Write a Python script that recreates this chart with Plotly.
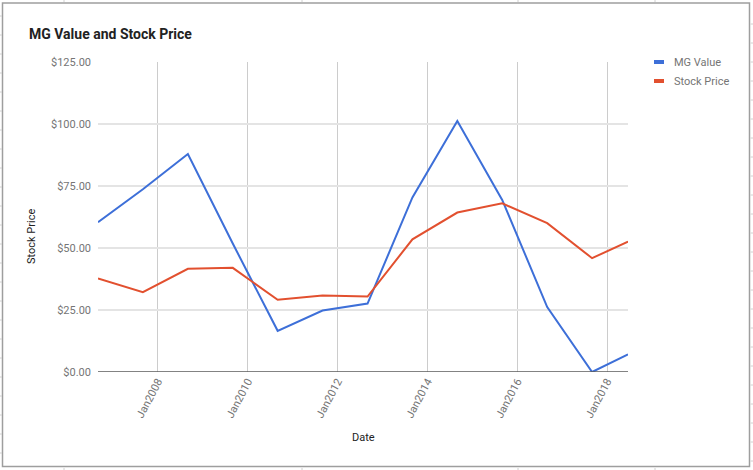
import plotly.graph_objects as go

# ---- data ----
dates = ["2006-09-01", "2007-09-01", "2008-09-01", "2009-09-01", "2010-09-01",
         "2011-09-01", "2012-09-01", "2013-09-01", "2014-09-01", "2015-09-01",
         "2016-09-01", "2017-09-01", "2018-06-20"]
mg_value = [60.4, 73.7, 87.9, 51.8, 16.6, 24.8, 27.6, 70.4, 101.2, 69.4, 26.2, 0.0, 7.1]
stock_price = [37.7, 32.2, 41.6, 42.0, 29.1, 30.8, 30.4, 53.5, 64.3, 68.0, 60.0, 45.9, 52.6]
x_tick_vals = ["2008-01-01", "2010-01-01", "2012-01-01", "2014-01-01", "2016-01-01", "2018-01-01"]
x_tick_text = ["Jan2008", "Jan2010", "Jan2012", "Jan2014", "Jan2016", "Jan2018"]
series_names = ["MG Value", "Stock Price"]
colors = ["#3d6fd8", "#e2502f"]

W, H = 753, 470
ML, MR, MT, MB = 98, 125, 62, 98
PW, PH = W - ML - MR, H - MT - MB


def px(x):
    return (x - ML) / PW


def py(y):
    return 1 - (y - MT) / PH


fig = go.Figure()
for name, vals, col in zip(series_names, [mg_value, stock_price], colors):
    fig.add_trace(go.Scatter(x=dates, y=vals, mode="lines", name=name,
                             line=dict(color=col, width=2), showlegend=False))

shapes = []
# outer frame
shapes.append(dict(type="rect", xref="paper", yref="paper",
                   x0=px(2.5), x1=px(749.5), y0=py(466.5), y1=py(3),
                   line=dict(color="#9e9e9e", width=1.5), layer="below"))
# spreadsheet grid stubs outside the frame
for yy in range(21, 470, 19):
    shapes.append(dict(type="line", xref="paper", yref="paper",
                       x0=px(0), x1=px(2), y0=py(yy - 5), y1=py(yy - 5),
                       line=dict(color="#d0d0d0", width=1)))
    shapes.append(dict(type="line", xref="paper", yref="paper",
                       x0=px(750.5), x1=px(753), y0=py(yy + 3), y1=py(yy + 3),
                       line=dict(color="#d0d0d0", width=1)))
for xx in [64, 302, 518, 655]:
    shapes.append(dict(type="line", xref="paper", yref="paper",
                       x0=px(xx), x1=px(xx), y0=py(0), y1=py(2),
                       line=dict(color="#d0d0d0", width=1)))
    shapes.append(dict(type="line", xref="paper", yref="paper",
                       x0=px(xx), x1=px(xx), y0=py(468), y1=py(470),
                       line=dict(color="#d0d0d0", width=1)))
# zero baseline
shapes.append(dict(type="line", xref="paper", yref="y", x0=0, x1=1, y0=0, y1=0,
                   line=dict(color="#5a5a5a", width=1.5)))

annotations = []
annotations.append(dict(text="MG Value and Stock Price", xref="paper", yref="paper",
                        x=px(27), y=py(34), xanchor="left", yanchor="middle", showarrow=False,
                        font=dict(family="Roboto", size=14, color="#222222", weight="bold")))
annotations.append(dict(text="Date", xref="paper", yref="paper",
                        x=px(363), y=py(437), xanchor="center", yanchor="middle", showarrow=False,
                        font=dict(family="Roboto", size=11, color="#222222")))
annotations.append(dict(text="Stock Price", xref="paper", yref="paper", textangle=-90,
                        x=px(31), y=py(237), xanchor="center", yanchor="middle", showarrow=False,
                        font=dict(family="Roboto", size=11, color="#222222")))
# manual legend
for i, (name, col) in enumerate(zip(series_names, colors)):
    yy = 62 + 19 * i
    shapes.append(dict(type="line", xref="paper", yref="paper",
                       x0=px(654), x1=px(664), y0=py(yy), y1=py(yy),
                       line=dict(color=col, width=4)))
    annotations.append(dict(text=name, xref="paper", yref="paper",
                            x=px(672), y=py(yy), xanchor="left", yanchor="middle", showarrow=False,
                            font=dict(family="Roboto", size=11, color="#757575")))

fig.update_layout(
    width=W, height=H,
    margin=dict(l=ML, r=MR, t=MT, b=MB),
    paper_bgcolor="white", plot_bgcolor="white",
    font=dict(family="Roboto", color="#757575"),
    shapes=shapes, annotations=annotations,
    xaxis=dict(type="date", range=[dates[0], dates[-1]],
               tickmode="array", tickvals=x_tick_vals, ticktext=x_tick_text,
               tickangle=-62, tickfont=dict(size=11, color="#757575"),
               showgrid=True, gridcolor="#cccccc", gridwidth=1,
               zeroline=False, showline=False, ticks=""),
    yaxis=dict(range=[0, 125], dtick=25, tick0=0, tickprefix="$", tickformat=",.2f",
               tickfont=dict(size=11, color="#757575"),
               showgrid=True, gridcolor="#e4e4e4", gridwidth=1.5,
               zeroline=False, showline=False, ticks="", ticklabelstandoff=6),
)

fig.write_html("out.html", config={"displayModeBar": False},
               post_script="document.body.style.margin='0px';document.body.style.padding='0px';")
